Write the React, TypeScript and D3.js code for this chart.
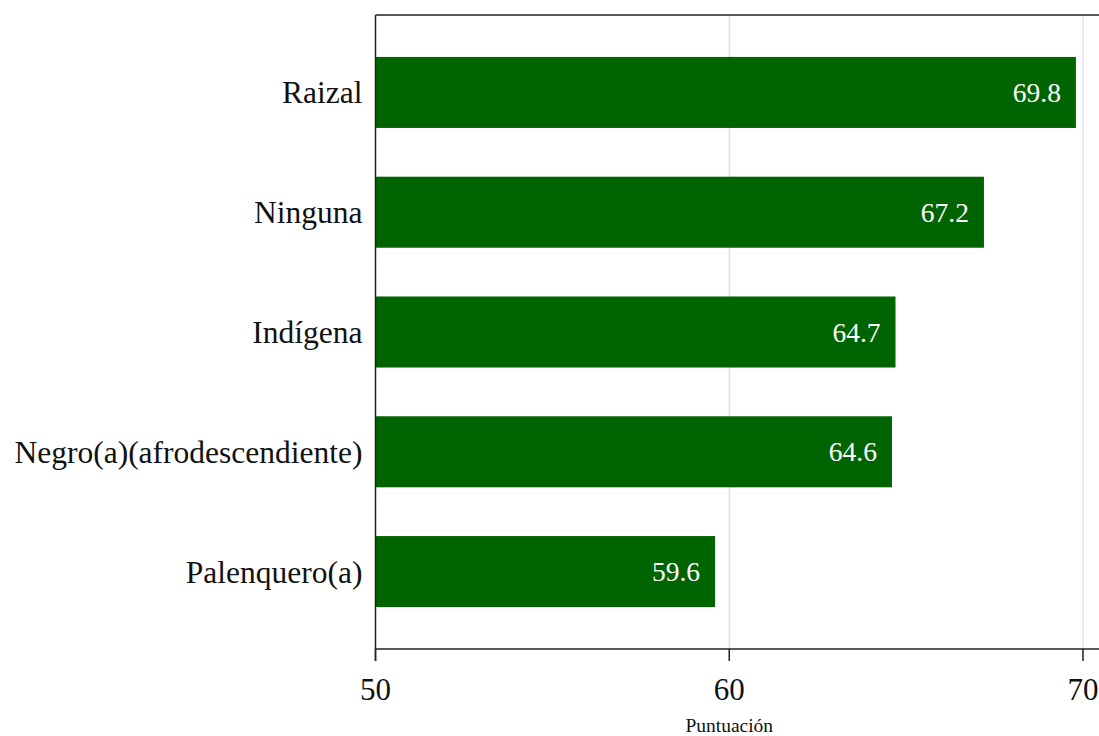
import React from "react";
import * as d3 from "d3";

const categories = ["Raizal", "Ninguna", "Indígena", "Negro(a)(afrodescendiente)", "Palenquero(a)"];
const values = [69.8, 67.2, 64.7, 64.6, 59.6];
const xTicks = [50, 60, 70];
const xLabel = "Puntuación";

const W = 1099;
const H = 736;
const left = 375.5;
const top = 15;
const bottom = 649;
const rightEdge = W;
const font = "'Liberation Serif', 'Times New Roman', serif";

export default function App() {
  const x = d3.scaleLinear().domain([50, 70]).range([left, 1083]);
  const y = d3
    .scaleBand<string>()
    .domain(categories)
    .range([top, bottom])
    .paddingInner(0.407)
    .paddingOuter(0.35);
  const bw = y.bandwidth();

  return (
    <svg
      width={W}
      height={H}
      style={{ position: "absolute", left: 0, top: 0, background: "#fff" }}
      fontFamily={font}
    >
      {xTicks.slice(1).map((t) => (
        <line key={"g" + t} x1={x(t)} x2={x(t)} y1={top} y2={bottom} stroke="#e3e3e3" strokeWidth={1.5} />
      ))}
      {categories.map((c, i) => {
        const yy = y(c)!;
        return (
          <g key={c}>
            <rect x={x(50)} y={yy} width={x(values[i]) - x(50)} height={bw} fill="#006400" />
            <text
              x={x(values[i]) - 15}
              y={yy + bw / 2}
              dy="0.35em"
              textAnchor="end"
              fill="#fff"
              fontSize={27.5}
            >
              {values[i].toFixed(1)}
            </text>
            <text x={left - 13} y={yy + bw / 2} dy="0.35em" textAnchor="end" fill="#111" fontSize={31.5}>
              {c}
            </text>
          </g>
        );
      })}
      <line x1={left} x2={rightEdge} y1={top} y2={top} stroke="#222" strokeWidth={1.5} />
      <line x1={left} x2={left} y1={top} y2={bottom + 12} stroke="#222" strokeWidth={1.5} />
      <line x1={left} x2={rightEdge} y1={bottom} y2={bottom} stroke="#222" strokeWidth={1.5} />
      {xTicks.map((t) => (
        <g key={t}>
          <line x1={x(t)} x2={x(t)} y1={bottom} y2={bottom + 12} stroke="#222" strokeWidth={1.5} />
          <text x={x(t)} y={700} textAnchor="middle" fill="#111" fontSize={31}>
            {t}
          </text>
        </g>
      ))}
      <text x={x(60)} y={732} textAnchor="middle" fill="#111" fontSize={19.5}>
        {xLabel}
      </text>
    </svg>
  );
}
